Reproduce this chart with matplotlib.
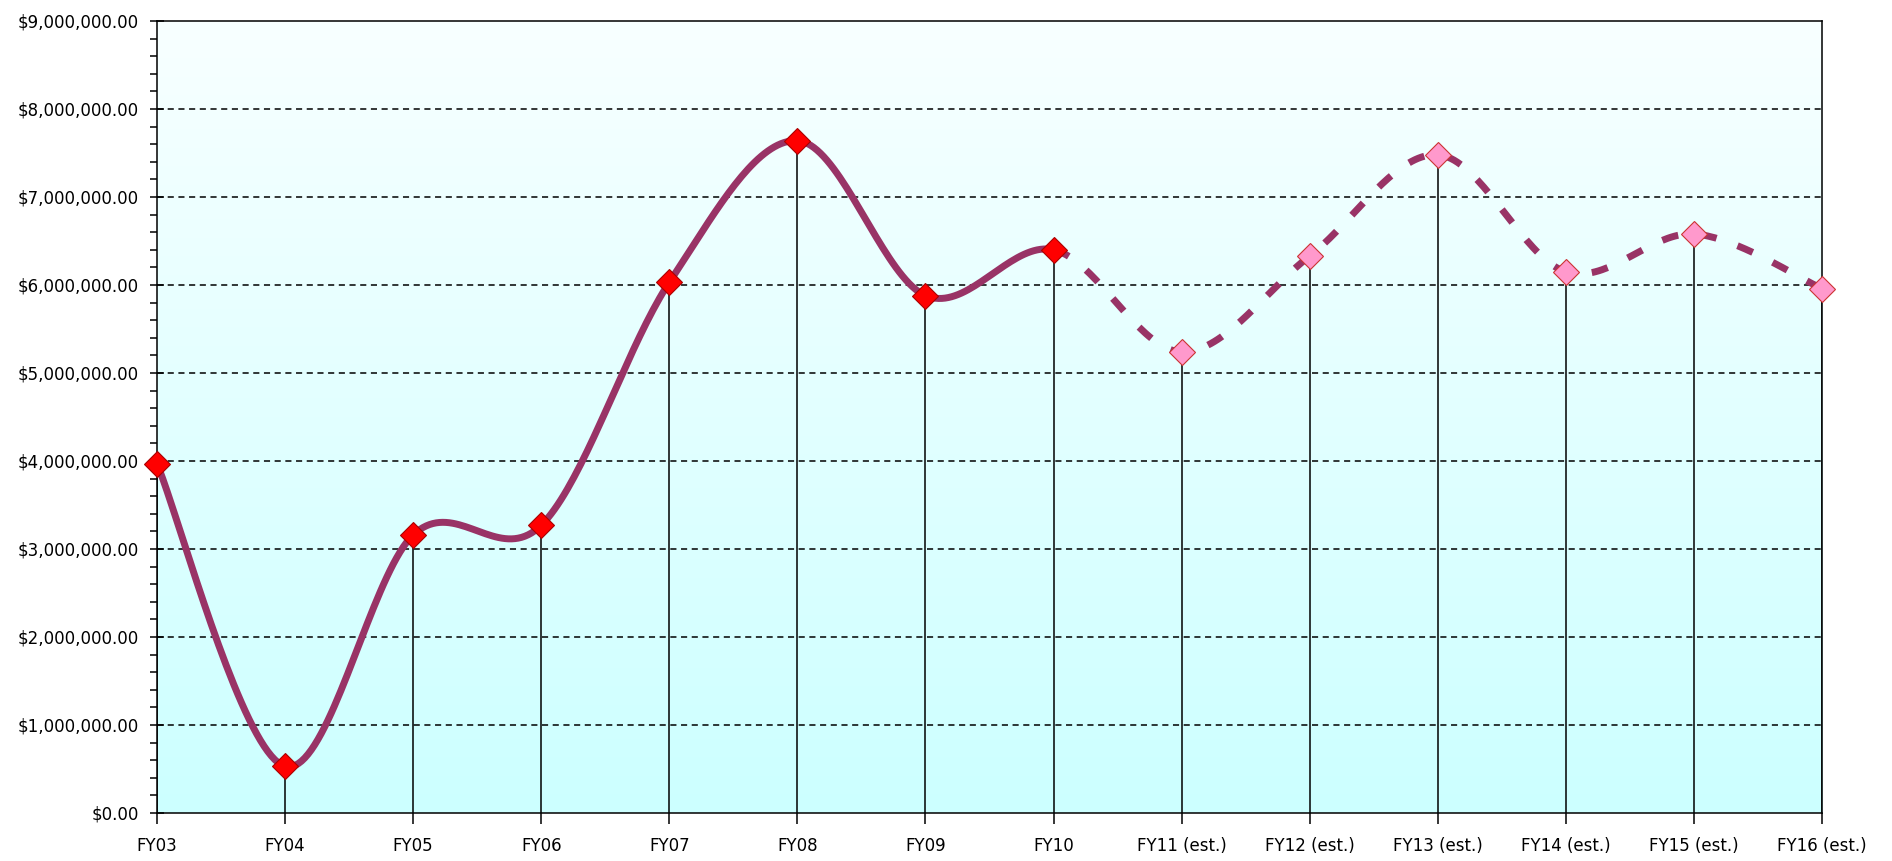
import numpy as np
import matplotlib
matplotlib.use("Agg")
import matplotlib.pyplot as plt
from matplotlib.ticker import FuncFormatter, MultipleLocator
from matplotlib.colors import LinearSegmentedColormap

categories = ["FY03", "FY04", "FY05", "FY06", "FY07", "FY08", "FY09", "FY10",
              "FY11 (est.)", "FY12 (est.)", "FY13 (est.)", "FY14 (est.)",
              "FY15 (est.)", "FY16 (est.)"]
actual = [3.97e6, 0.53e6, 3.16e6, 3.27e6, 6.03e6, 7.64e6, 5.88e6, 6.40e6]
estimated = [5.24e6, 6.33e6, 7.48e6, 6.15e6, 6.58e6, 5.96e6]

values = np.array(actual + estimated, dtype=float)
x = np.arange(len(values), dtype=float)
n_act = len(actual)


def smooth(xs, ys, steps=40):
    # Bezier smoothing through the data points (Excel-like "smoothed line")
    px, py = [], []
    n = len(xs)
    for i in range(n - 1):
        p0 = np.array([xs[i], ys[i]])
        p3 = np.array([xs[i + 1], ys[i + 1]])
        prev = np.array([xs[i - 1], ys[i - 1]]) if i > 0 else p0
        nxt = np.array([xs[i + 2], ys[i + 2]]) if i + 2 < n else p3
        c1 = p0 + (p3 - prev) / 6.0
        c2 = p3 - (nxt - p0) / 6.0
        t = np.linspace(0, 1, steps)[:, None]
        pts = ((1 - t) ** 3) * p0 + 3 * ((1 - t) ** 2) * t * c1 + 3 * (1 - t) * t ** 2 * c2 + t ** 3 * p3
        if i > 0:
            pts = pts[1:]
        px.append(pts[:, 0]); py.append(pts[:, 1])
    return np.concatenate(px), np.concatenate(py), steps - 1


fig = plt.figure(figsize=(18.92, 8.61), dpi=100)
ax = fig.add_axes([157 / 1892, 48 / 861, (1822 - 157) / 1892, (813 - 21) / 861])

ymax = 9e6
# gradient background
cmap = LinearSegmentedColormap.from_list("bg", ["#CCFFFF", "#F8FFFF"])
grad = np.linspace(0, 1, 256)[:, None]
ax.imshow(grad, cmap=cmap, aspect="auto", origin="lower",
          extent=[0, len(values) - 1, 0, ymax], zorder=0)

ax.set_xlim(0, len(values) - 1)
ax.set_ylim(0, ymax)

# grid lines
for yv in np.arange(1e6, ymax, 1e6):
    ax.axhline(yv, color="black", lw=1.1, dashes=(4, 3), zorder=1)

# drop lines
ax.vlines(x, 0, values, color="black", lw=1.1, zorder=2)

sx, sy, per = smooth(x, values)
split = (n_act - 1) * per + 1
line_col = "#993366"
ax.plot(sx[:split], sy[:split], color=line_col, lw=5, solid_capstyle="round", zorder=3)
ax.plot(sx[split - 1:], sy[split - 1:], color=line_col, lw=5, dashes=(2.4, 3.2),
        dash_capstyle="butt", zorder=3)

ax.plot(x[:n_act], values[:n_act], linestyle="none", marker="D", markersize=13.5,
        markerfacecolor="#FF0000", markeredgecolor="#AA0000", markeredgewidth=0.8,
        zorder=6, clip_on=False)
ax.plot(x[n_act:], values[n_act:], linestyle="none", marker="D", markersize=13.5,
        markerfacecolor="#FF99CC", markeredgecolor="#CC3333", markeredgewidth=0.8,
        zorder=6, clip_on=False)

ax.set_xticks(x)
ax.set_xticklabels(categories)
ax.yaxis.set_major_locator(MultipleLocator(1e6))
ax.yaxis.set_minor_locator(MultipleLocator(2e5))
ax.yaxis.set_major_formatter(FuncFormatter(lambda v, p: "${:,.2f}".format(v)))

ax.tick_params(axis="y", which="major", direction="inout", length=10, width=1.1,
               labelsize=12, pad=8)
ax.tick_params(axis="y", which="minor", direction="out", length=5, width=1.1)
ax.tick_params(axis="x", which="major", direction="out", length=8, width=1.1,
               labelsize=12, pad=9)
for sp in ax.spines.values():
    sp.set_color("black")
    sp.set_linewidth(1.1)
    sp.set_zorder(5)

fig.savefig("out.png", dpi=100, facecolor="white")
